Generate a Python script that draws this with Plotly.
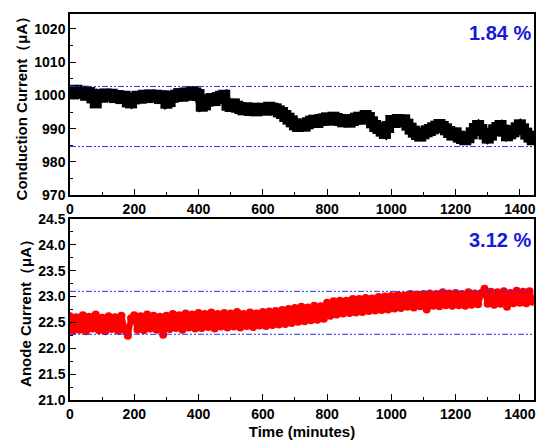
import plotly.graph_objects as go

# Time axis: one reading every 10 minutes
time_min = list(range(0, 1450, 10))

# Conduction current (uA)
conduction = [
    1001.2, 1000.6, 1001.4, 1000.8, 1001.1, 1000.2, 1000.7, 999.4, 997.9, 1000.1,
    999.6, 1000.3, 999.9, 1000.2, 999.5, 999.8, 999.2, 999.6, 998.2, 997.9,
    999.1, 999.6, 999.3, 999.9, 999.5, 1000.0, 999.6, 999.9, 999.2, 999.7,
    997.8, 998.3, 999.6, 999.9, 1000.4, 999.9, 1000.6, 1000.2, 1001.0, 1000.6,
    1000.1, 996.9, 997.3, 998.5, 998.9, 998.6, 999.2, 999.6, 999.9, 997.2,
    996.8, 997.3, 996.6, 996.2, 995.8, 996.1, 995.6, 996.0, 995.5, 995.9,
    996.0, 995.7, 996.3, 996.0, 995.8, 995.2, 994.7, 993.8, 993.0, 992.2,
    991.3, 990.8, 991.2, 990.9, 991.6, 992.1, 992.4, 992.0, 992.6, 992.8,
    993.1, 992.7, 993.3, 992.9, 992.6, 992.2, 992.5, 992.1, 992.6, 993.0,
    993.3, 993.0, 993.8, 993.2, 991.9, 990.8, 990.2, 989.4, 988.7, 990.5,
    992.3, 992.0, 992.6, 992.2, 992.5, 991.2, 990.0, 989.1, 988.4, 987.9,
    988.6, 989.2, 989.6, 990.1, 990.6, 991.1, 990.5, 989.8, 989.0, 988.2,
    988.6, 987.6, 987.2, 986.8, 987.4, 988.6, 989.9, 990.8, 989.6, 988.5,
    987.3, 988.2, 989.5, 990.2, 990.8, 989.4, 988.0, 988.6, 989.2, 990.1,
    991.0, 989.8, 988.5, 987.6, 986.8,
]

# Anode current (uA)
anode = [
    22.62, 22.34, 22.60, 22.36, 22.64, 22.33, 22.61, 22.38, 22.65, 22.35,
    22.59, 22.33, 22.62, 22.37, 22.60, 22.34, 22.63, 22.36, 22.24, 22.58,
    22.64, 22.36, 22.62, 22.35, 22.65, 22.38, 22.63, 22.36, 22.61, 22.26,
    22.63, 22.37, 22.66, 22.39, 22.64, 22.36, 22.67, 22.40, 22.65, 22.38,
    22.68, 22.39, 22.66, 22.41, 22.69, 22.38, 22.66, 22.42, 22.68, 22.40,
    22.67, 22.42, 22.70, 22.40, 22.66, 22.43, 22.69, 22.41, 22.67, 22.44,
    22.70, 22.43, 22.71, 22.45, 22.72, 22.46, 22.74, 22.47, 22.76, 22.49,
    22.78, 22.51, 22.80, 22.52, 22.79, 22.54, 22.82, 22.55, 22.81, 22.57,
    22.88, 22.63, 22.91, 22.65, 22.92, 22.67, 22.92, 22.68, 22.95, 22.69,
    22.95, 22.70, 22.97, 22.72, 22.96, 22.73, 22.99, 22.74, 23.00, 22.75,
    23.01, 22.77, 23.03, 22.78, 23.02, 22.80, 23.05, 22.79, 23.04, 22.81,
    23.05, 22.75, 23.06, 22.82, 23.05, 22.81, 23.08, 22.83, 23.06, 22.82,
    23.07, 22.83, 23.05, 22.82, 23.08, 22.84, 23.06, 22.85, 23.07, 23.15,
    22.86, 23.09, 22.84, 23.08, 22.86, 23.10, 22.80, 23.07, 22.87, 23.11,
    22.88, 23.09, 22.87, 23.10, 22.90,
]

# Upper / lower bounds of each fluctuation band
conduction_bounds = [1002.7, 984.6]
anode_bounds = [23.10, 22.27]
band_labels = ["1.84 %", "3.12 %"]

x_range = [0, 1444]
conduction_range = [970, 1024.5]
anode_range = [21.0, 24.5]

x_ticks = [0, 200, 400, 600, 800, 1000, 1200, 1400]
conduction_ticks = [970, 980, 990, 1000, 1010, 1020]
anode_ticks = [21.0, 21.5, 22.0, 22.5, 23.0, 23.5, 24.0, 24.5]

FONT = "Arial, 'Liberation Sans', sans-serif"
BLUE = "#1818d8"
LINE_BLUE = "#3030f0"
DASH = "6px,2px,2px,2px,2px,2px"


def bold(values, fmt):
    return ["<b>" + format(v, fmt) + "</b>" for v in values]


fig = go.Figure()

fig.add_trace(go.Scatter(
    x=time_min, y=conduction, mode="lines+markers",
    line=dict(color="black", width=10),
    marker=dict(symbol="square", size=12, color="black"),
    xaxis="x", yaxis="y",
))
fig.add_trace(go.Scatter(
    x=time_min, y=anode, mode="lines+markers",
    line=dict(color="#ff0000", width=6),
    marker=dict(symbol="circle", size=8, color="#ff0000"),
    xaxis="x2", yaxis="y2",
))

for v in conduction_bounds:
    fig.add_trace(go.Scatter(
        x=x_range, y=[v, v], mode="lines",
        line=dict(color=LINE_BLUE, width=1, dash=DASH),
        xaxis="x", yaxis="y",
    ))
for v in anode_bounds:
    fig.add_trace(go.Scatter(
        x=x_range, y=[v, v], mode="lines",
        line=dict(color=LINE_BLUE, width=1, dash=DASH),
        xaxis="x2", yaxis="y2",
    ))

tick_font = dict(family=FONT, size=14, color="black", weight="bold")
title_font = dict(family=FONT, size=15, color="black", weight="bold")

common_axis = dict(
    showline=True, linecolor="black", linewidth=1.5, mirror=True,
    ticks="inside", ticklen=6, tickwidth=1.2, tickcolor="black",
    showgrid=False, zeroline=False, tickfont=tick_font,
)

fig.update_layout(
    width=542, height=448,
    margin=dict(l=70, r=6, t=10, b=48),
    paper_bgcolor="white", plot_bgcolor="white",
    showlegend=False,
    xaxis=dict(
        domain=[0, 1], range=x_range, anchor="y",
        tickmode="array", tickvals=x_ticks, ticktext=bold(x_ticks, "d"),
        minor=dict(ticks="inside", ticklen=3, dtick=100, tickcolor="black"),
        **common_axis,
    ),
    yaxis=dict(
        domain=[0.5308, 1], range=conduction_range, anchor="x",
        tickmode="array", tickvals=conduction_ticks, ticktext=bold(conduction_ticks, "d"),
        minor=dict(ticks="inside", ticklen=3, dtick=5, tickcolor="black"),
        title=dict(text="<b>Conduction Current（μA）</b>", font=title_font, standoff=3),
        **common_axis,
    ),
    xaxis2=dict(
        domain=[0, 1], range=x_range, anchor="y2",
        tickmode="array", tickvals=x_ticks, ticktext=bold(x_ticks, "d"),
        minor=dict(ticks="inside", ticklen=3, dtick=100, tickcolor="black"),
        title=dict(text="<b>Time (minutes)</b>", font=title_font, standoff=6),
        **common_axis,
    ),
    yaxis2=dict(
        domain=[0, 0.4692], range=anode_range, anchor="x2",
        tickmode="array", tickvals=anode_ticks, ticktext=bold(anode_ticks, ".1f"),
        minor=dict(ticks="inside", ticklen=3, dtick=0.25, tickcolor="black"),
        title=dict(text="<b>Anode Current（μA）</b>", font=title_font, standoff=3),
        **common_axis,
    ),
    annotations=[
        dict(text="<b>" + band_labels[0] + "</b>", xref="x domain", yref="y domain",
             x=0.997, y=0.895, xanchor="right", yanchor="middle", showarrow=False,
             font=dict(family=FONT, size=20, color=BLUE, weight="bold")),
        dict(text="<b>" + band_labels[1] + "</b>", xref="x2 domain", yref="y2 domain",
             x=0.997, y=0.885, xanchor="right", yanchor="middle", showarrow=False,
             font=dict(family=FONT, size=20, color=BLUE, weight="bold")),
    ],
)

fig.write_html("out.html")
